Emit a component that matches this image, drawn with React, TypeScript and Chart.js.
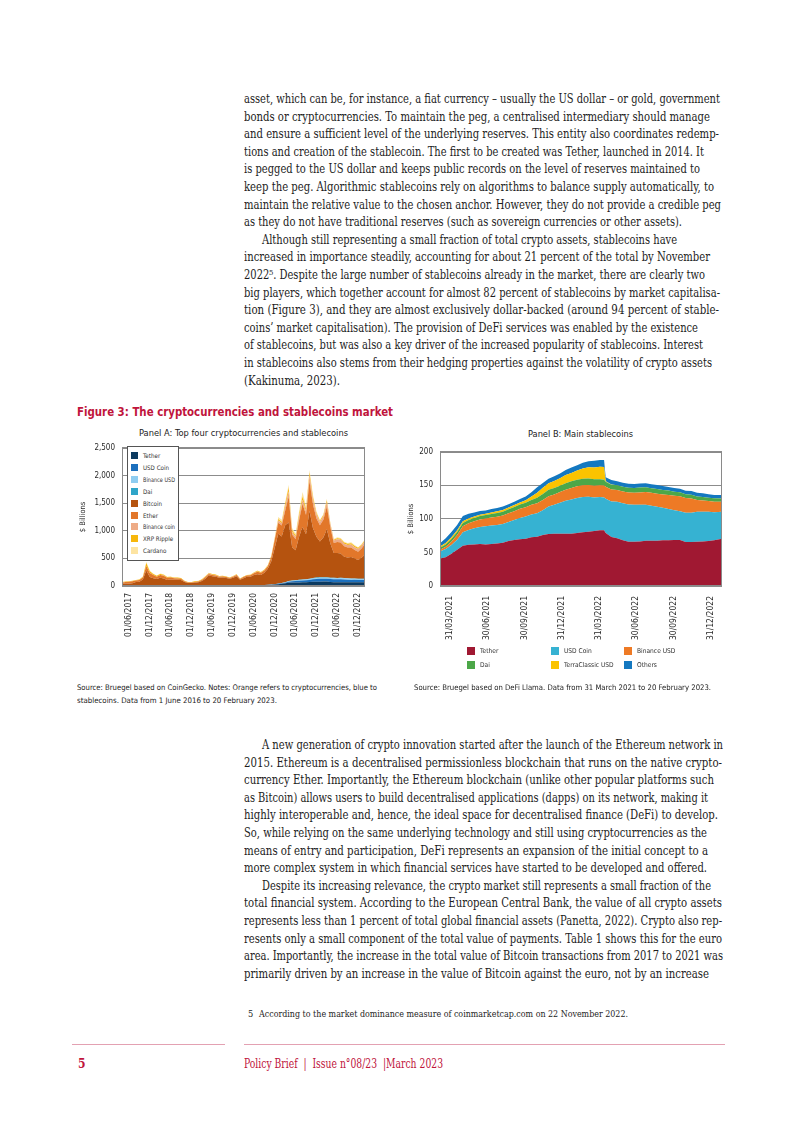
import React, { useEffect, useRef } from 'react';
import { Chart, registerables } from 'chart.js';

Chart.register(...registerables);

const SANS = "'DejaVu Sans Condensed', 'Liberation Sans Narrow', 'DejaVu Sans', sans-serif";
const SERIF = "'DejaVu Serif Condensed', 'DejaVu Serif', serif";
const CRIMSON = '#c0143c';

// ---------------- Panel A data (monthly, May 2017 -> Feb 2023) ----------------
const tickMonthsA = [1, 7, 13, 19, 25, 31, 37, 43, 49, 55, 61, 67];
const tickLabelsA = ['01/06/2017', '01/12/2017', '01/06/2018', '01/12/2018', '01/06/2019', '01/12/2019', '01/06/2020', '01/12/2020', '01/06/2021', '01/12/2021', '01/06/2022', '01/12/2022'];

const tetherA = [0.1, 0.1, 0.1, 0.1, 0.3, 0.4, 0.7, 1.2, 2, 2.2, 2.3, 2.3, 2.5, 2.6, 2.7, 2.8, 2.8, 2.2, 1.8, 1.9, 2, 2, 2, 2.5, 2.8, 3.5, 3.9, 4, 4.1, 4.1, 4.1, 4.1, 4.6, 4.6, 5, 6.5, 8.8, 9.2, 10, 12,
  15, 16, 18, 20, 25, 33, 40, 48, 58, 62, 62, 65, 68, 70, 74, 78, 78, 78, 80, 82, 74, 67, 66, 67, 68, 68, 66, 66, 67, 69, 70];
const usdcA = [0, 0, 0, 0, 0, 0, 0, 0, 0, 0, 0, 0, 0, 0, 0, 0, 0, 0.1, 0.2, 0.3, 0.3, 0.3, 0.3, 0.3, 0.4, 0.4, 0.5, 0.5, 0.5, 0.5, 0.5, 0.5, 0.5, 0.6, 0.7, 0.8, 0.9, 1.1, 1.5, 1.8,
  2, 3, 3, 3.5, 5, 7, 10, 12, 18, 24, 27, 28, 30, 33, 36, 42, 48, 52, 52, 50, 52, 55, 55, 54, 50, 46, 43, 45, 43, 41, 41];
const busdA = [0, 0, 0, 0, 0, 0, 0, 0, 0, 0, 0, 0, 0, 0, 0, 0, 0, 0, 0, 0, 0, 0, 0, 0, 0, 0, 0, 0, 0, 0, 0, 0, 0.2, 0.2, 0.2, 0.2, 0.3, 0.3, 0.4, 0.5,
  0.5, 0.6, 0.8, 1, 1.5, 2, 3, 5, 8, 10, 11, 12, 13, 14, 15, 15, 16, 17, 17, 17, 18, 18, 18, 19, 20, 21, 22, 20, 16, 15, 13];
const daiA = [0, 0, 0, 0, 0, 0, 0, 0, 0, 0, 0, 0, 0, 0, 0, 0, 0, 0, 0, 0, 0, 0, 0, 0, 0, 0, 0, 0, 0, 0, 0, 0.1, 0.1, 0.1, 0.1, 0.1, 0.1, 0.1, 0.2, 0.3,
  0.4, 0.6, 0.9, 1, 1.5, 2, 3, 4, 5, 5, 5.5, 6, 6, 7, 8, 9, 10, 10, 10, 9, 7, 7, 7, 7, 6.5, 6, 5.5, 5.5, 5, 5, 5];
const bitcoinA = [42, 45, 42, 50, 70, 78, 115, 280, 160, 140, 125, 145, 135, 108, 115, 110, 110, 108, 70, 52,
  50, 58, 64, 88, 130, 185, 170, 165, 145, 148, 140, 125, 145, 170, 105, 134, 156, 158, 185, 200,
  180, 220, 290, 420, 658, 900, 840, 1030, 1060, 600, 540, 780, 950, 810, 1230, 900, 740, 650, 720, 870,
  620, 450, 450, 440, 385, 375, 390, 360, 340, 380, 440];
const etherA = [18, 25, 33, 35, 31, 32, 40, 80, 75, 55, 40, 50, 50, 38, 35, 28, 23, 21, 12, 9,
  10, 12, 14, 16, 25, 30, 25, 22, 19, 18, 17, 14, 17, 25, 14, 19, 22, 25, 35, 45,
  40, 42, 45, 75, 150, 200, 200, 260, 470, 230, 200, 300, 420, 350, 540, 430, 330, 290, 320, 410,
  290, 180, 200, 200, 190, 180, 170, 155, 150, 170, 195];
const bnbA = [0, 0, 0, 0, 0, 0, 0, 1, 2, 2, 2, 2, 2, 2, 2, 2, 2, 2, 1, 1,
  1, 2, 2, 3, 4, 5, 5, 4, 3, 3, 3, 2, 3, 3, 2, 2, 3, 3, 3, 4,
  4, 4, 4, 5, 7, 40, 40, 75, 95, 45, 40, 60, 75, 65, 95, 85, 70, 60, 65, 75,
  55, 45, 50, 50, 45, 45, 55, 50, 50, 48, 50];
const xrpA = [10, 10, 10, 10, 9, 9, 10, 55, 30, 18, 15, 19, 16, 12, 13, 10, 15, 11, 9, 8,
  8, 11, 10, 11, 13, 12, 12, 11, 10, 10, 9, 8, 9, 10, 7, 8, 8, 8, 9, 12,
  10, 11, 14, 20, 20, 26, 24, 50, 70, 32, 30, 45, 58, 46, 55, 46, 30, 23, 19, 40,
  20, 16, 18, 17, 22, 24, 22, 20, 20, 20, 20];
const cardanoA = [0, 0, 0, 0, 0, 1, 5, 23, 11, 8, 6, 7, 5, 3, 3, 2, 2, 1.5, 1, 1,
  1, 1, 1, 2, 2, 2, 2, 2, 1, 1, 1, 1, 1, 2, 1, 1, 2, 3, 3, 4,
  3, 3, 4, 5, 12, 40, 40, 36, 46, 42, 35, 54, 80, 55, 47, 45, 28, 20, 17, 27,
  14, 12, 16, 16, 13.5, 15, 16.5, 18.5, 9, 12, 16];

const seriesA = [
  { name: 'Tether', values: tetherA, color: '#0c3a60' },
  { name: 'USD Coin', values: usdcA, color: '#1b6fbd' },
  { name: 'Binance USD', values: busdA, color: '#8fcdf1' },
  { name: 'Dai', values: daiA, color: '#2fa5c9' },
  { name: 'Bitcoin', values: bitcoinA, color: '#b5530f' },
  { name: 'Ether', values: etherA, color: '#e2772a' },
  { name: 'Binance coin', values: bnbA, color: '#eeab86' },
  { name: 'XRP Ripple', values: xrpA, color: '#f7b70c' },
  { name: 'Cardano', values: cardanoA, color: '#fde4a2' },
];

// ---------------- Panel B data (days since 31/03/2021) ----------------
const daysB = [0, 14, 28, 42, 56, 70, 84, 98, 112, 126, 140, 154, 168, 182, 196, 210, 224, 238, 252, 266, 280, 294, 308, 322, 336, 350, 364, 378, 392, 402, 406, 420, 434, 448, 462, 476, 490, 504, 518, 532, 546, 560, 574, 588, 602, 616, 630, 644, 658, 672, 691];
const tickDaysB = [0, 91, 183, 275, 365, 456, 548, 640];
const tickLabelsB = ['31/03/2021', '30/06/2021', '30/09/2021', '31/12/2021', '31/03/2022', '30/06/2022', '30/09/2022', '31/12/2022'];

const tetherB = [41, 43, 48, 54, 60, 61.5, 62, 62.5, 62, 62.5, 63.5, 64.5, 67, 68.5, 69.5, 70.5, 72.5, 73.5, 76, 77.5,
  78, 78, 78, 78, 79, 80, 81, 82, 83, 83, 79, 73, 71, 68, 66, 66, 66.5, 67.5, 67.5, 67.5,
  68, 68.3, 68.5, 68.4, 65.5, 65.5, 66, 66.3, 67, 68, 70.5];
const usdcB = [10.5, 12, 13, 15, 20, 22, 24, 25.5, 27, 27.5, 27.5, 28, 28.5, 30, 32, 33, 34, 35, 37, 41,
  43, 46, 49, 51, 52, 52.5, 52, 50, 49.5, 49, 51, 53, 54.5, 55.5, 55.5, 55, 54.5, 53.5, 52, 50.5,
  48.5, 46.5, 44.5, 43, 43.5, 43.5, 44.5, 44.5, 43.5, 42, 40];
const busdB = [2.4, 3.5, 5, 7, 9, 10, 10.5, 11, 11.5, 12, 12.3, 12.5, 12.8, 13, 13.5, 14, 14.5, 15, 15, 15.3,
  15.5, 16, 16.5, 17, 17.5, 17.5, 17.5, 17.5, 17.6, 17.7, 18, 18, 17.6, 17.5, 17.8, 18, 18.5, 19, 19.3, 19.6,
  20, 21, 21.5, 22.3, 22, 21.5, 17.5, 16.5, 16, 15.5, 15];
const daiB = [3, 3.5, 4, 4.5, 5, 5, 5, 5.2, 5.3, 5.4, 5.6, 5.8, 6, 6.3, 6.5, 6.7, 7.2, 8, 9, 9.5,
  9.5, 9.5, 9.8, 10, 10, 10, 9.8, 9.5, 9, 8.8, 7.5, 7, 7, 7, 7, 7, 7.2, 7, 6.9, 6.8,
  6.6, 6.4, 6.1, 5.9, 5.6, 5.5, 5.4, 5.3, 5.2, 5.1, 5];
const ustB = [1.8, 2.2, 2.5, 2.5, 2.5, 2, 1.9, 1.9, 1.9, 2.2, 2.4, 2.5, 2.6, 2.8, 3, 3.5, 5, 7.5, 9.5, 10,
  10.5, 11, 12, 12.5, 13.5, 15, 16.5, 17.5, 18.5, 18.7, 0.5, 0.3, 0, 0, 0, 0, 0, 0, 0, 0,
  0, 0, 0, 0, 0, 0, 0, 0, 0, 0, 0];
const othersB = [5, 7, 8, 8, 8, 7, 6, 5.5, 5, 5, 5, 5, 5, 5, 5, 5.5, 6.5, 8, 7, 6.5,
  7, 7, 7.5, 8, 8, 8.5, 9, 10, 10, 10.5, 6, 6.5, 6, 6, 6, 6, 6, 6, 6, 6,
  6, 5.5, 5.5, 5.5, 5.5, 5.5, 5.5, 5.5, 5, 5, 5];

const seriesB = [
  { name: 'Tether', values: tetherB, color: '#a01832' },
  { name: 'USD Coin', values: usdcB, color: '#36b2d2' },
  { name: 'Binance USD', values: busdB, color: '#ee7a25' },
  { name: 'Dai', values: daiB, color: '#4ca748' },
  { name: 'TerraClassic USD', values: ustB, color: '#fbc300' },
  { name: 'Others', values: othersB, color: '#1478c0' },
];
const legendOrderB = ['Tether', 'USD Coin', 'Binance USD', 'Dai', 'TerraClassic USD', 'Others'];

// ---------------- Text ----------------
const topLines: [string, number, number][] = [
  ['asset, which can be, for instance, a fiat currency – usually the US dollar – or gold, government', 244, 720],
  ['bonds or cryptocurrencies. To maintain the peg, a centralised intermediary should manage', 244, 710],
  ['and ensure a sufficient level of the underlying reserves. This entity also coordinates redemp-', 244, 719],
  ['tions and creation of the stablecoin. The first to be created was Tether, launched in 2014. It', 244, 704],
  ['is pegged to the US dollar and keeps public records on the level of reserves maintained to', 244, 700],
  ['keep the peg. Algorithmic stablecoins rely on algorithms to balance supply automatically, to', 244, 714],
  ['maintain the relative value to the chosen anchor. However, they do not provide a credible peg', 244, 721],
  ['as they do not have traditional reserves (such as sovereign currencies or other assets).', 244, 682],
  ['Although still representing a small fraction of total crypto assets, stablecoins have', 262, 677],
  ['increased in importance steadily, accounting for about 21 percent of the total by November', 244, 710],
  ['2022⁵. Despite the large number of stablecoins already in the market, there are clearly two', 244, 705],
  ['big players, which together account for almost 82 percent of stablecoins by market capitalisa-', 244, 720],
  ['tion (Figure 3), and they are almost exclusively dollar-backed (around 94 percent of stable-', 244, 719],
  ['coins’ market capitalisation). The provision of DeFi services was enabled by the existence', 244, 698],
  ['of stablecoins, but was also a key driver of the increased popularity of stablecoins. Interest', 244, 703],
  ['in stablecoins also stems from their hedging properties against the volatility of crypto assets', 244, 712],
  ['(Kakinuma, 2023).', 244, 340],
];
const bottomLines: [string, number, number][] = [
  ['A new generation of crypto innovation started after the launch of the Ethereum network in', 262, 723],
  ['2015. Ethereum is a decentralised permissionless blockchain that runs on the native crypto-', 244, 722],
  ['currency Ether. Importantly, the Ethereum blockchain (unlike other popular platforms such', 244, 714],
  ['as Bitcoin) allows users to build decentralised applications (dapps) on its network, making it', 244, 708],
  ['highly interoperable and, hence, the ideal space for decentralised finance (DeFi) to develop.', 244, 718],
  ['So, while relying on the same underlying technology and still using cryptocurrencies as the', 244, 707],
  ['means of entry and participation, DeFi represents an expansion of the initial concept to a', 244, 708],
  ['more complex system in which financial services have started to be developed and offered.', 244, 707],
  ['Despite its increasing relevance, the crypto market still represents a small fraction of the', 262, 711],
  ['total financial system. According to the European Central Bank, the value of all crypto assets', 244, 722],
  ['represents less than 1 percent of total global financial assets (Panetta, 2022). Crypto also rep-', 244, 722],
  ['resents only a small component of the total value of payments. Table 1 shows this for the euro', 244, 722],
  ['area. Importantly, the increase in the total value of Bitcoin transactions from 2017 to 2021 was', 244, 723],
  ['primarily driven by an increase in the value of Bitcoin against the euro, not by an increase', 244, 709],
];

// ---------------- helpers ----------------
let mctx: CanvasRenderingContext2D | null = null;
function measure(text: string, font: string): number {
  if (!mctx) mctx = document.createElement('canvas').getContext('2d');
  if (!mctx) return 0;
  mctx.font = font;
  return mctx.measureText(text).width;
}

function Line(props: { text: string; x: number; y: number; x2?: number; maxW?: number; size: number; family: string; weight?: string; color?: string; lh?: number }) {
  const { text, x, y, x2, maxW, size, family, weight = 'normal', color = '#1d1d1d', lh = 16 } = props;
  const natural = measure(text, `${weight} ${size}px ${family}`);
  let k = x2 && natural > 0 ? (x2 - x) / natural : 1;
  if (maxW && natural > maxW) k = maxW / natural;
  return (
    <div
      style={{
        position: 'absolute', left: x, top: y - lh / 2, height: lh, lineHeight: lh + 'px',
        fontFamily: family, fontSize: size, fontWeight: weight as any, color, whiteSpace: 'pre',
        transform: `scaleX(${k})`, transformOrigin: '0 50%',
      }}
    >
      {text}
    </div>
  );
}

const framePlugin = {
  id: 'frame',
  afterDraw(chart: any) {
    const { ctx, chartArea } = chart;
    const { left, top, right, bottom } = chartArea;
    ctx.save();
    ctx.strokeStyle = '#8a8a8a';
    ctx.lineWidth = 1;
    ctx.strokeRect(Math.round(left) + 0.5, Math.round(top) + 0.5, Math.round(right - left) - 1, Math.round(bottom - top) - 1);
    ctx.restore();
  },
};

function makeDatasets(series: { name: string; values: number[]; color: string }[], xs: number[]) {
  return series.map((s, k) => ({
    label: s.name,
    data: s.values.map((v, i) => ({ x: xs[i], y: v })),
    backgroundColor: s.color,
    borderColor: s.color,
    borderWidth: 0,
    pointRadius: 0,
    tension: 0,
    fill: k === 0 ? 'origin' : '-1',
  }));
}

function StackChart(props: {
  series: { name: string; values: number[]; color: string }[];
  xs: number[]; xMax: number; tickVals: number[]; tickLabels: string[]; labelOffset: number; labelPad: number;
  yMax: number; yStep: number; yWidth: number; width: number; height: number; left: number; top: number;
}) {
  const ref = useRef<HTMLCanvasElement | null>(null);
  useEffect(() => {
    if (!ref.current) return;
    const p = props;
    const chart = new Chart(ref.current, {
      type: 'line',
      data: { datasets: makeDatasets(p.series, p.xs) as any },
      options: {
        animation: false,
        responsive: false,
        maintainAspectRatio: false,
        layout: { padding: { top: 7, right: 4, left: 0, bottom: 0 } },
        plugins: { legend: { display: false }, tooltip: { enabled: false }, title: { display: false } },
        scales: {
          x: {
            type: 'linear',
            min: 0,
            max: p.xMax,
            grid: { display: false, drawTicks: false },
            border: { display: false },
            afterBuildTicks: (s: any) => { s.ticks = p.tickVals.map((v) => ({ value: v })); },
            afterFit: (s: any) => { s.height = 64; },
            ticks: {
              autoSkip: false,
              maxRotation: 90,
              minRotation: 90,
              padding: p.labelPad,
              labelOffset: p.labelOffset,
              color: '#2a2a2a',
              font: { family: SANS, size: 8.5 },
              callback: (v: any) => {
                const k = p.tickVals.indexOf(Number(v));
                return k >= 0 ? p.tickLabels[k] : '';
              },
            },
          },
          y: {
            stacked: true,
            min: 0,
            max: p.yMax,
            grid: { color: '#8c8c8c', drawTicks: false, lineWidth: 1 },
            border: { display: false },
            afterFit: (s: any) => { s.width = p.yWidth; },
            title: { display: true, text: '$ Billions', color: '#2a2a2a', font: { family: SANS, size: 7.5 }, padding: { top: 6.5, bottom: 0 } },
            ticks: {
              stepSize: p.yStep,
              padding: 7,
              color: '#2a2a2a',
              font: { family: SANS, size: 8 },
              callback: (v: any) => Number(v).toLocaleString('en-US'),
            },
          },
        },
      },
      plugins: [framePlugin],
    });
    return () => chart.destroy();
  }, []);
  return (
    <canvas
      ref={ref}
      width={props.width}
      height={props.height}
      style={{ position: 'absolute', left: props.left, top: props.top, width: props.width, height: props.height }}
    />
  );
}

function LegendA() {
  return (
    <div style={{ position: 'absolute', left: 127, top: 446, width: 50, height: 113, border: '1px solid #555', background: '#fff' }}>
      {seriesA.map((s, k) => (
        <div key={s.name} style={{ position: 'absolute', left: 0, top: 4 + k * 11.9, height: 9, width: 50 }}>
          <div style={{ position: 'absolute', left: 3, top: 1, width: 7, height: 7, background: s.color }} />
          <Line text={s.name} x={15} y={4.5} lh={9} maxW={32} size={6.2} family={SANS} color="#333" />
        </div>
      ))}
    </div>
  );
}

function LegendB() {
  const colX = [467, 551, 624];
  const rowY = [651, 665];
  return (
    <>
      {legendOrderB.map((name, k) => {
        const s = seriesB.find((q) => q.name === name)!;
        const x = colX[k % 3];
        const y = rowY[Math.floor(k / 3)];
        return (
          <div key={name}>
            <div style={{ position: 'absolute', left: x, top: y - 4, width: 8, height: 8, background: s.color }} />
            <div style={{ position: 'absolute', left: x + 13, top: y - 5, lineHeight: '10px', fontFamily: SANS, fontSize: 6.6, color: '#333', whiteSpace: 'pre' }}>{name}</div>
          </div>
        );
      })}
    </>
  );
}

export default function App() {
  const xsA = bitcoinA.map((_, i) => i);
  return (
    <div style={{ position: 'absolute', left: 0, top: 0, width: 802, height: 1133, background: '#fff', overflow: 'hidden' }}>
      {topLines.map(([t, x, x2], i) => (
        <Line key={'t' + i} text={t} x={x} x2={x2} y={99 + 17.6 * i} size={12.8} family={SERIF} />
      ))}

      <Line text="Figure 3: The cryptocurrencies and stablecoins market" x={77} x2={393} y={412} size={13} weight="bold" family={SANS} color={CRIMSON} />
      <Line text="Panel A: Top four cryptocurrencies and stablecoins" x={139} x2={348} y={433} size={9.5} family={SANS} color="#222" />
      <Line text="Panel B: Main stablecoins" x={528} x2={633} y={434} size={9.5} family={SANS} color="#222" />

      <StackChart
        series={seriesA} xs={xsA} xMax={70} tickVals={tickMonthsA} tickLabels={tickLabelsA} labelOffset={3} labelPad={7}
        yMax={2500} yStep={500} yWidth={50} width={300} height={214} left={72} top={436}
      />
      <LegendA />

      <StackChart
        series={seriesB} xs={daysB} xMax={691} tickVals={tickDaysB} tickLabels={tickLabelsB} labelOffset={10} labelPad={10}
        yMax={200} yStep={50} yWidth={40} width={326} height={210} left={400} top={440}
      />
      <LegendB />

      <Line text="Source: Bruegel based on CoinGecko. Notes: Orange refers to cryptocurrencies, blue to" x={77} x2={377} y={688} size={7.6} family={SANS} color="#222" />
      <Line text="stablecoins. Data from 1 June 2016 to 20 February 2023." x={77} x2={277} y={701} size={7.6} family={SANS} color="#222" />
      <Line text="Source: Bruegel based on DeFi Llama. Data from 31 March 2021 to 20 February 2023." x={414} x2={711} y={688} size={7.6} family={SANS} color="#222" />

      {bottomLines.map(([t, x, x2], i) => (
        <Line key={'b' + i} text={t} x={x} x2={x2} y={745 + 17.6 * i} size={12.8} family={SERIF} />
      ))}

      <Line text="5" x={248} y={1014} size={9.2} family={SERIF} />
      <Line text="According to the market dominance measure of coinmarketcap.com on 22 November 2022." x={259} x2={628} y={1014} size={9.2} family={SERIF} />

      <div style={{ position: 'absolute', left: 72, top: 1044, width: 153, height: 1, background: '#e3a1b2' }} />
      <div style={{ position: 'absolute', left: 244, top: 1044, width: 481, height: 1, background: '#e3a1b2' }} />
      <Line text="5" x={78} y={1064} size={12} weight="bold" family={SERIF} color={CRIMSON} />
      <Line text="Policy Brief  |  Issue n°08/23  |March 2023" x={244} x2={443} y={1064} size={12} family={SERIF} color={CRIMSON} />
    </div>
  );
}
